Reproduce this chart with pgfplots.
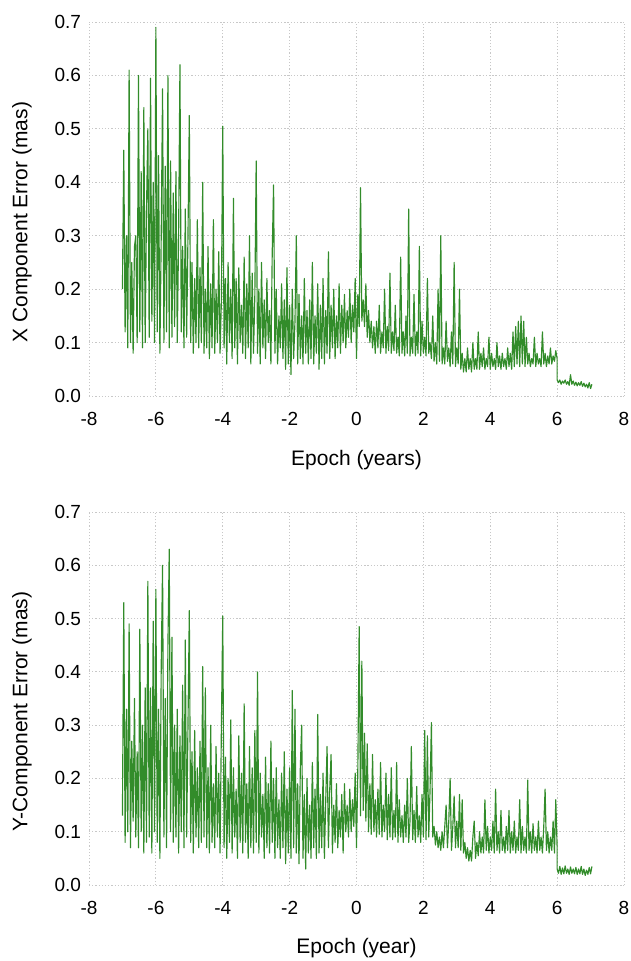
\documentclass[border=0pt]{standalone}
\usepackage{pgfplots}
\pgfplotsset{compat=1.18}
\usepackage{pgfplotstable}
\usepackage{fontspec}
\setmainfont{Liberation Sans}
\definecolor{lg}{RGB}{50,140,42}
\definecolor{gridc}{RGB}{200,200,200}

\pgfplotstableread[row sep=\\]{
x y\\
-7.00 0.20\\ -6.96 0.46\\ -6.92 0.12\\ -6.88 0.30\\ -6.84 0.09\\ -6.80 0.61\\ -6.76 0.10\\ -6.72 0.25\\ -6.68 0.08\\ -6.64 0.28\\
-6.60 0.30\\ -6.56 0.10\\ -6.52 0.60\\ -6.48 0.12\\ -6.44 0.42\\ -6.40 0.09\\ -6.36 0.54\\ -6.32 0.10\\ -6.28 0.35\\ -6.24 0.50\\
-6.20 0.11\\ -6.16 0.595\\ -6.12 0.14\\ -6.08 0.40\\ -6.04 0.10\\ -6.00 0.69\\ -5.96 0.12\\ -5.92 0.45\\ -5.88 0.08\\ -5.84 0.30\\
-5.80 0.575\\ -5.76 0.10\\ -5.72 0.43\\ -5.68 0.12\\ -5.64 0.60\\ -5.60 0.09\\ -5.56 0.44\\ -5.52 0.11\\ -5.48 0.38\\ -5.44 0.13\\
-5.40 0.42\\ -5.36 0.10\\ -5.32 0.30\\ -5.28 0.62\\ -5.24 0.12\\ -5.20 0.28\\ -5.16 0.09\\ -5.12 0.35\\ -5.08 0.11\\ -5.04 0.30\\
-5.00 0.525\\ -4.96 0.10\\ -4.92 0.25\\ -4.88 0.08\\ -4.84 0.22\\ -4.80 0.10\\ -4.76 0.33\\ -4.72 0.09\\ -4.68 0.24\\ -4.64 0.10\\
-4.60 0.40\\ -4.56 0.08\\ -4.52 0.20\\ -4.48 0.09\\ -4.44 0.28\\ -4.40 0.07\\ -4.36 0.21\\ -4.32 0.09\\ -4.28 0.33\\ -4.24 0.08\\
-4.20 0.20\\ -4.16 0.10\\ -4.12 0.27\\ -4.08 0.08\\ -4.04 0.18\\ -4.00 0.505\\ -3.96 0.09\\ -3.92 0.22\\ -3.88 0.06\\ -3.84 0.25\\
-3.80 0.10\\ -3.76 0.20\\ -3.72 0.07\\ -3.68 0.37\\ -3.64 0.09\\ -3.60 0.22\\ -3.56 0.06\\ -3.52 0.24\\ -3.48 0.10\\ -3.44 0.17\\
-3.40 0.08\\ -3.36 0.26\\ -3.32 0.07\\ -3.28 0.21\\ -3.24 0.09\\ -3.20 0.30\\ -3.16 0.06\\ -3.12 0.23\\ -3.08 0.08\\ -3.04 0.19\\
-3.00 0.44\\ -2.96 0.08\\ -2.92 0.20\\ -2.88 0.06\\ -2.84 0.25\\ -2.80 0.09\\ -2.76 0.18\\ -2.72 0.07\\ -2.68 0.22\\ -2.64 0.10\\
-2.60 0.16\\ -2.56 0.06\\ -2.52 0.27\\ -2.48 0.395\\ -2.44 0.08\\ -2.40 0.20\\ -2.36 0.06\\ -2.32 0.15\\ -2.28 0.09\\ -2.24 0.21\\
-2.20 0.07\\ -2.16 0.18\\ -2.12 0.05\\ -2.08 0.24\\ -2.04 0.06\\ -2.00 0.17\\ -1.96 0.04\\ -1.92 0.20\\ -1.88 0.07\\ -1.84 0.14\\
-1.80 0.30\\ -1.76 0.06\\ -1.72 0.19\\ -1.68 0.07\\ -1.64 0.15\\ -1.60 0.06\\ -1.56 0.22\\ -1.52 0.08\\ -1.48 0.16\\ -1.44 0.06\\
-1.40 0.18\\ -1.36 0.07\\ -1.32 0.25\\ -1.28 0.06\\ -1.24 0.15\\ -1.20 0.08\\ -1.16 0.21\\ -1.12 0.05\\ -1.08 0.17\\ -1.04 0.07\\
-1.00 0.22\\ -0.96 0.06\\ -0.92 0.16\\ -0.88 0.08\\ -0.84 0.27\\ -0.80 0.07\\ -0.76 0.17\\ -0.72 0.09\\ -0.68 0.20\\ -0.64 0.07\\
-0.60 0.15\\ -0.56 0.09\\ -0.52 0.21\\ -0.48 0.08\\ -0.44 0.17\\ -0.40 0.10\\ -0.36 0.19\\ -0.32 0.09\\ -0.28 0.16\\ -0.24 0.11\\
-0.20 0.20\\ -0.16 0.10\\ -0.12 0.17\\ -0.08 0.12\\ -0.04 0.22\\ 0.00 0.07\\ 0.04 0.19\\ 0.08 0.13\\ 0.12 0.39\\ 0.16 0.14\\
0.20 0.18\\ 0.24 0.13\\ 0.28 0.21\\ 0.32 0.11\\ 0.36 0.16\\ 0.40 0.10\\ 0.44 0.14\\ 0.48 0.09\\ 0.52 0.13\\ 0.56 0.08\\
0.60 0.14\\ 0.64 0.09\\ 0.68 0.17\\ 0.72 0.08\\ 0.76 0.12\\ 0.80 0.09\\ 0.84 0.20\\ 0.88 0.08\\ 0.92 0.13\\ 0.96 0.085\\
1.00 0.23\\ 1.04 0.08\\ 1.08 0.12\\ 1.12 0.085\\ 1.16 0.17\\ 1.20 0.08\\ 1.24 0.11\\ 1.28 0.075\\ 1.32 0.26\\ 1.36 0.08\\
1.40 0.12\\ 1.44 0.075\\ 1.48 0.15\\ 1.52 0.08\\ 1.56 0.35\\ 1.60 0.075\\ 1.64 0.11\\ 1.68 0.08\\ 1.72 0.19\\ 1.76 0.075\\
1.80 0.12\\ 1.84 0.08\\ 1.88 0.28\\ 1.92 0.075\\ 1.96 0.14\\ 2.00 0.08\\ 2.04 0.11\\ 2.08 0.075\\ 2.12 0.22\\ 2.16 0.08\\
2.20 0.10\\ 2.24 0.07\\ 2.28 0.15\\ 2.32 0.065\\ 2.36 0.10\\ 2.40 0.06\\ 2.44 0.20\\ 2.48 0.065\\ 2.52 0.30\\ 2.56 0.06\\
2.60 0.09\\ 2.64 0.06\\ 2.68 0.14\\ 2.72 0.065\\ 2.76 0.09\\ 2.80 0.055\\ 2.84 0.12\\ 2.88 0.06\\ 2.92 0.25\\ 2.96 0.055\\
3.00 0.09\\ 3.04 0.06\\ 3.08 0.20\\ 3.12 0.05\\ 3.16 0.08\\ 3.20 0.045\\ 3.24 0.07\\ 3.28 0.045\\ 3.32 0.09\\ 3.36 0.05\\
3.40 0.07\\ 3.44 0.045\\ 3.48 0.10\\ 3.52 0.05\\ 3.56 0.07\\ 3.60 0.05\\ 3.64 0.12\\ 3.68 0.05\\ 3.72 0.08\\ 3.76 0.055\\
3.80 0.09\\ 3.84 0.05\\ 3.88 0.07\\ 3.92 0.055\\ 3.96 0.11\\ 4.00 0.05\\ 4.04 0.08\\ 4.08 0.055\\ 4.12 0.07\\ 4.16 0.05\\
4.20 0.10\\ 4.24 0.055\\ 4.28 0.075\\ 4.32 0.05\\ 4.36 0.08\\ 4.40 0.055\\ 4.44 0.07\\ 4.48 0.05\\ 4.52 0.09\\ 4.56 0.055\\
4.60 0.08\\ 4.64 0.05\\ 4.68 0.12\\ 4.72 0.055\\ 4.76 0.13\\ 4.80 0.06\\ 4.84 0.14\\ 4.88 0.055\\ 4.92 0.15\\ 4.96 0.06\\
5.00 0.14\\ 5.04 0.055\\ 5.08 0.11\\ 5.12 0.06\\ 5.16 0.08\\ 5.20 0.055\\ 5.24 0.07\\ 5.28 0.06\\ 5.32 0.11\\ 5.36 0.055\\
5.40 0.08\\ 5.44 0.06\\ 5.48 0.07\\ 5.52 0.055\\ 5.56 0.12\\ 5.60 0.06\\ 5.64 0.08\\ 5.68 0.055\\ 5.72 0.075\\ 5.76 0.06\\
5.80 0.09\\ 5.84 0.06\\ 5.88 0.075\\ 5.92 0.065\\ 5.96 0.085\\ 6.00 0.07\\ 6.00 0.03\\ 6.04 0.025\\ 6.08 0.03\\ 6.12 0.022\\
6.16 0.028\\ 6.20 0.024\\ 6.24 0.03\\ 6.28 0.022\\ 6.32 0.027\\ 6.36 0.02\\ 6.40 0.04\\ 6.44 0.022\\ 6.48 0.028\\ 6.52 0.02\\
6.56 0.026\\ 6.60 0.019\\ 6.64 0.025\\ 6.68 0.02\\ 6.72 0.027\\ 6.76 0.018\\ 6.80 0.024\\ 6.84 0.017\\ 6.88 0.022\\ 6.92 0.015\\ 6.96 0.025\\ 7.00 0.014\\ 7.04 0.022\\
}\xdata

\pgfplotstableread[row sep=\\]{
x y\\
-7.00 0.13\\ -6.96 0.53\\ -6.92 0.08\\ -6.88 0.33\\ -6.84 0.10\\ -6.80 0.49\\ -6.76 0.07\\ -6.72 0.27\\ -6.68 0.12\\ -6.64 0.35\\
-6.60 0.09\\ -6.56 0.25\\ -6.52 0.07\\ -6.48 0.48\\ -6.44 0.10\\ -6.40 0.30\\ -6.36 0.06\\ -6.32 0.37\\ -6.28 0.08\\ -6.24 0.57\\
-6.20 0.09\\ -6.16 0.37\\ -6.12 0.06\\ -6.08 0.495\\ -6.04 0.10\\ -6.00 0.555\\ -5.96 0.08\\ -5.92 0.33\\ -5.88 0.05\\ -5.84 0.41\\
-5.80 0.60\\ -5.76 0.09\\ -5.72 0.35\\ -5.68 0.07\\ -5.64 0.45\\ -5.60 0.63\\ -5.56 0.10\\ -5.52 0.465\\ -5.48 0.08\\ -5.44 0.30\\
-5.40 0.09\\ -5.36 0.33\\ -5.32 0.06\\ -5.28 0.28\\ -5.24 0.10\\ -5.20 0.375\\ -5.16 0.07\\ -5.12 0.46\\ -5.08 0.09\\ -5.04 0.30\\
-5.00 0.515\\ -4.96 0.08\\ -4.92 0.25\\ -4.88 0.06\\ -4.84 0.29\\ -4.80 0.09\\ -4.76 0.22\\ -4.72 0.07\\ -4.68 0.27\\ -4.64 0.08\\
-4.60 0.41\\ -4.56 0.09\\ -4.52 0.37\\ -4.48 0.07\\ -4.44 0.22\\ -4.40 0.06\\ -4.36 0.30\\ -4.32 0.08\\ -4.28 0.19\\ -4.24 0.07\\
-4.20 0.26\\ -4.16 0.09\\ -4.12 0.21\\ -4.08 0.06\\ -4.04 0.30\\ -4.00 0.505\\ -3.96 0.07\\ -3.92 0.24\\ -3.88 0.05\\ -3.84 0.20\\
-3.80 0.08\\ -3.76 0.31\\ -3.72 0.06\\ -3.68 0.22\\ -3.64 0.09\\ -3.60 0.18\\ -3.56 0.05\\ -3.52 0.28\\ -3.48 0.08\\ -3.44 0.21\\
-3.40 0.06\\ -3.36 0.34\\ -3.32 0.08\\ -3.28 0.19\\ -3.24 0.05\\ -3.20 0.26\\ -3.16 0.07\\ -3.12 0.22\\ -3.08 0.06\\ -3.04 0.29\\
-3.00 0.08\\ -2.96 0.40\\ -2.92 0.06\\ -2.88 0.21\\ -2.84 0.09\\ -2.80 0.17\\ -2.76 0.05\\ -2.72 0.24\\ -2.68 0.07\\ -2.64 0.19\\
-2.60 0.06\\ -2.56 0.27\\ -2.52 0.08\\ -2.48 0.20\\ -2.44 0.05\\ -2.40 0.22\\ -2.36 0.07\\ -2.32 0.16\\ -2.28 0.05\\ -2.24 0.21\\
-2.20 0.07\\ -2.16 0.25\\ -2.12 0.04\\ -2.08 0.18\\ -2.04 0.06\\ -2.00 0.22\\ -1.96 0.05\\ -1.92 0.365\\ -1.88 0.07\\ -1.84 0.33\\
-1.80 0.06\\ -1.76 0.19\\ -1.72 0.04\\ -1.68 0.22\\ -1.64 0.30\\ -1.60 0.05\\ -1.56 0.17\\ -1.52 0.03\\ -1.48 0.20\\ -1.44 0.06\\
-1.40 0.15\\ -1.36 0.05\\ -1.32 0.23\\ -1.28 0.07\\ -1.24 0.18\\ -1.20 0.05\\ -1.16 0.32\\ -1.12 0.06\\ -1.08 0.17\\ -1.04 0.07\\
-1.00 0.21\\ -0.96 0.05\\ -0.92 0.16\\ -0.88 0.26\\ -0.84 0.07\\ -0.80 0.18\\ -0.76 0.245\\ -0.72 0.06\\ -0.68 0.15\\ -0.64 0.08\\
-0.60 0.19\\ -0.56 0.07\\ -0.52 0.14\\ -0.48 0.09\\ -0.44 0.17\\ -0.40 0.06\\ -0.36 0.19\\ -0.32 0.10\\ -0.28 0.15\\ -0.24 0.09\\
-0.20 0.18\\ -0.16 0.10\\ -0.12 0.16\\ -0.08 0.11\\ -0.04 0.21\\ 0.00 0.07\\ 0.04 0.22\\ 0.08 0.485\\ 0.12 0.13\\ 0.16 0.42\\
0.20 0.14\\ 0.24 0.285\\ 0.28 0.12\\ 0.32 0.265\\ 0.36 0.10\\ 0.40 0.19\\ 0.44 0.095\\ 0.48 0.245\\ 0.52 0.10\\ 0.56 0.16\\
0.60 0.09\\ 0.64 0.18\\ 0.68 0.095\\ 0.72 0.23\\ 0.76 0.09\\ 0.80 0.15\\ 0.84 0.10\\ 0.88 0.21\\ 0.92 0.085\\ 0.96 0.17\\
1.00 0.09\\ 1.04 0.22\\ 1.08 0.085\\ 1.12 0.14\\ 1.16 0.09\\ 1.20 0.23\\ 1.24 0.08\\ 1.28 0.16\\ 1.32 0.09\\ 1.36 0.13\\
1.40 0.08\\ 1.44 0.15\\ 1.48 0.09\\ 1.52 0.20\\ 1.56 0.08\\ 1.60 0.12\\ 1.64 0.26\\ 1.68 0.085\\ 1.72 0.14\\ 1.76 0.08\\
1.80 0.185\\ 1.84 0.09\\ 1.88 0.13\\ 1.92 0.08\\ 1.96 0.17\\ 2.00 0.09\\ 2.04 0.29\\ 2.08 0.085\\ 2.12 0.28\\ 2.16 0.09\\
2.20 0.18\\ 2.24 0.305\\ 2.28 0.09\\ 2.32 0.11\\ 2.36 0.075\\ 2.40 0.10\\ 2.44 0.07\\ 2.48 0.09\\ 2.52 0.065\\ 2.56 0.10\\
2.60 0.07\\ 2.64 0.11\\ 2.68 0.15\\ 2.72 0.07\\ 2.76 0.12\\ 2.80 0.20\\ 2.84 0.065\\ 2.88 0.11\\ 2.92 0.167\\ 2.96 0.07\\
3.00 0.12\\ 3.04 0.07\\ 3.08 0.17\\ 3.12 0.065\\ 3.16 0.16\\ 3.20 0.06\\ 3.24 0.08\\ 3.28 0.05\\ 3.32 0.07\\ 3.36 0.045\\
3.40 0.065\\ 3.44 0.045\\ 3.48 0.09\\ 3.52 0.12\\ 3.56 0.05\\ 3.60 0.08\\ 3.64 0.055\\ 3.68 0.10\\ 3.72 0.06\\ 3.76 0.09\\
3.80 0.06\\ 3.84 0.16\\ 3.88 0.065\\ 3.92 0.11\\ 3.96 0.06\\ 4.00 0.09\\ 4.04 0.065\\ 4.08 0.12\\ 4.12 0.06\\ 4.16 0.18\\
4.20 0.065\\ 4.24 0.10\\ 4.28 0.06\\ 4.32 0.14\\ 4.36 0.065\\ 4.40 0.09\\ 4.44 0.06\\ 4.48 0.11\\ 4.52 0.065\\ 4.56 0.14\\
4.60 0.06\\ 4.64 0.10\\ 4.68 0.065\\ 4.72 0.12\\ 4.76 0.06\\ 4.80 0.09\\ 4.84 0.065\\ 4.88 0.16\\ 4.92 0.06\\ 4.96 0.11\\
5.00 0.065\\ 5.04 0.09\\ 5.08 0.06\\ 5.12 0.197\\ 5.16 0.065\\ 5.20 0.10\\ 5.24 0.06\\ 5.28 0.115\\ 5.32 0.065\\ 5.36 0.09\\
5.40 0.06\\ 5.44 0.12\\ 5.48 0.065\\ 5.52 0.09\\ 5.56 0.06\\ 5.60 0.11\\ 5.64 0.18\\ 5.68 0.065\\ 5.72 0.10\\ 5.76 0.06\\
5.80 0.09\\ 5.84 0.065\\ 5.88 0.12\\ 5.92 0.06\\ 5.96 0.16\\ 6.00 0.07\\ 6.00 0.03\\ 6.04 0.022\\ 6.08 0.035\\ 6.12 0.02\\
6.16 0.032\\ 6.20 0.021\\ 6.24 0.036\\ 6.28 0.022\\ 6.32 0.03\\ 6.36 0.02\\ 6.40 0.034\\ 6.44 0.022\\ 6.48 0.03\\ 6.52 0.021\\
6.56 0.033\\ 6.60 0.02\\ 6.64 0.03\\ 6.68 0.021\\ 6.72 0.035\\ 6.76 0.02\\ 6.80 0.03\\ 6.84 0.018\\ 6.88 0.028\\ 6.92 0.02\\ 6.96 0.033\\ 7.00 0.021\\ 7.04 0.035\\
}\ydata

\pgfplotsset{
  myaxis/.style={
    scale only axis, width=535pt, height=374pt,
    xmin=-8, xmax=8, ymin=0, ymax=0.7,
    xtick={-8,-6,-4,-2,0,2,4,6,8},
    ytick={0,0.1,0.2,0.3,0.4,0.5,0.6,0.7},
    grid=major,
    major grid style={draw=gridc, line width=0.8pt, dash pattern=on 1.3pt off 1.9pt},
    axis line style={draw=none},
    major tick length=0pt,
    /pgf/number format/assume math mode=true,
    tick label style={font=\fontsize{19}{23}\selectfont},
    yticklabel style={xshift=-4.5pt, /pgf/number format/.cd, fixed, fixed zerofill, precision=1},
    xticklabel style={yshift=-13pt},
    label style={font=\fontsize{21}{25}\selectfont},
    xlabel style={at={(axis description cs:0.5,-0.1845)}, anchor=base},
    ylabel style={at={(axis description cs:-0.1252,0.465)}, anchor=center},
  },
  myline/.style={color=lg, line width=1.15pt, line join=round, mark=none},
}

\begin{document}
\begin{tikzpicture}
\path[use as bounding box] (0pt,0pt) rectangle (631pt,-961pt);
\begin{axis}[myaxis, at={(89pt,-396pt)}, anchor=south west,
  xlabel={Epoch (years)}, ylabel={X Component Error (mas)}]
\addplot[myline] table[x=x, y=y] {\xdata};
\end{axis}
\begin{axis}[myaxis, at={(89pt,-885pt)}, anchor=south west, height=373pt,
  xlabel={Epoch (year)}, ylabel={Y-Component Error (mas)}]
\addplot[myline] table[x=x, y=y] {\ydata};
\end{axis}
\end{tikzpicture}
\end{document}
